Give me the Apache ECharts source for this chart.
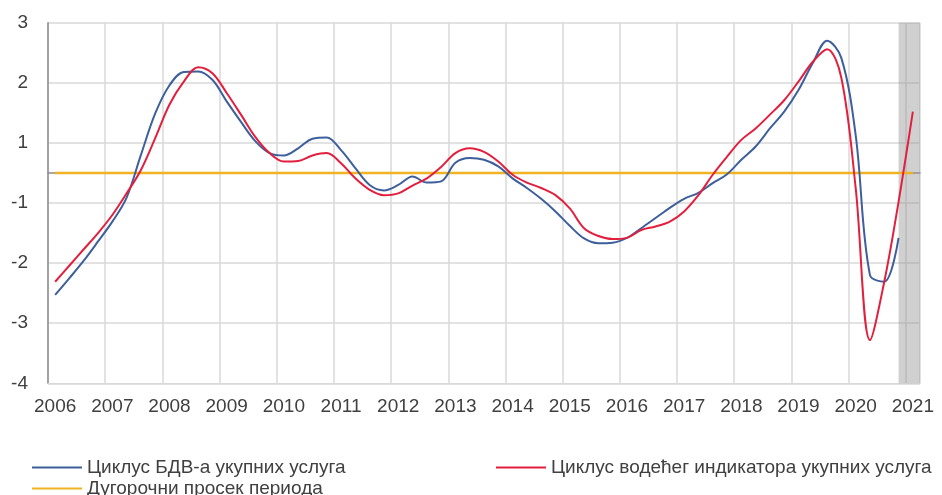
<!DOCTYPE html>
<html>
<head>
<meta charset="utf-8">
<script src="https://cdn.jsdelivr.net/npm/echarts@6/dist/echarts.min.js"></script>
<style>
  html, body { margin: 0; padding: 0; background: #fff; }
  #chart { width: 942px; height: 495px; }
</style>
</head>
<body>
<div id="chart"></div>
<script>
// quarterly data, 2006Q1 - 2021Q1
const years = [2006, 2007, 2008, 2009, 2010, 2011, 2012, 2013, 2014, 2015, 2016, 2017, 2018, 2019, 2020, 2021];
const quarters = [];
years.forEach(function (y) {
  for (let q = 1; q <= 4; q++) {
    if (y === 2021 && q > 1) break;
    quarters.push(y + 'Q' + q);
  }
});

// Циклус БДВ-а укупних услуга
const gvaCycle = [
  -2.03, -1.75, -1.46, -1.14, -0.81, -0.41, 0.30, 0.99,
  1.46, 1.68, 1.69, 1.55, 1.19, 0.85, 0.53, 0.33,
  0.29, 0.41, 0.57, 0.59, 0.38, 0.08, -0.20, -0.29,
  -0.20, -0.06, -0.16, -0.14, 0.17, 0.25, 0.22, 0.11,
  -0.09, -0.25, -0.43, -0.64, -0.88, -1.09, -1.17, -1.16,
  -1.08, -0.92, -0.75, -0.58, -0.43, -0.33, -0.17, -0.02,
  0.22, 0.44, 0.74, 1.02, 1.38, 1.83, 2.20, 1.91,
  0.63, -1.70, -1.81, -1.08, null
];

// Циклус водећег индикатора укупних услуга
const leadCycle = [
  -1.81, -1.54, -1.27, -1.00, -0.70, -0.34, 0.05, 0.58,
  1.14, 1.52, 1.76, 1.66, 1.33, 0.97, 0.60, 0.33,
  0.19, 0.20, 0.29, 0.33, 0.16, -0.09, -0.28, -0.37,
  -0.34, -0.21, -0.09, 0.10, 0.33, 0.41, 0.35, 0.19,
  -0.03, -0.16, -0.25, -0.37, -0.59, -0.92, -1.05, -1.10,
  -1.08, -0.95, -0.89, -0.81, -0.64, -0.37, -0.03, 0.27,
  0.55, 0.74, 0.97, 1.21, 1.52, 1.85, 2.06, 1.58,
  -0.25, -2.78, -1.81, -0.48, 1.02
];

// Дугорочни просек периода
const longAvg = quarters.map(function () { return 0; });

// shaded forecast area (in quarter units)
const shadeFrom = 59.5;
const shadeTo = 61;

const names = ['Циклус БДВ-а укупних услуга', 'Циклус водећег индикатора укупних услуга', 'Дугорочни просек периода'];
const colors = ['#3d5f9c', '#e21f3d', '#f0b323'];

const font = 'Liberation Sans, Arial, sans-serif';
const txt = '#404040';

let myChart = echarts.init(document.getElementById('chart'));

function legendAt(name, left, top) {
  return {
    left: left,
    top: top,
    data: [name],
    icon: 'rect',
    itemWidth: 50,
    itemHeight: 2,
    itemGap: 0,
    selectedMode: false,
    textStyle: { fontFamily: font, fontSize: 19, color: txt }
  };
}

const option = {
  animation: false,
  grid: { left: 48, right: 22, top: 22.7, bottom: 111.7 },
  legend: [
    legendAt(names[0], 27, 453),
    legendAt(names[1], 491, 453),
    legendAt(names[2], 27, 474)
  ],
  xAxis: [
    {
      type: 'category',
      data: quarters,
      boundaryGap: true,
      axisLine: { show: true, lineStyle: { color: '#d9d9d9', width: 1 }, onZero: false },
      axisTick: { show: false },
      axisLabel: {
        interval: 3,
        margin: 14,
        fontFamily: font,
        fontSize: 19,
        color: txt,
        formatter: function (v) { return v.slice(0, 4); }
      },
      splitLine: { show: true, interval: 3, lineStyle: { color: '#d9d9d9', width: 1.5 } }
    },
    {
      // axis line crossing at zero
      type: 'category',
      data: quarters,
      position: 'bottom',
      axisLine: { show: true, onZero: true, lineStyle: { color: '#8c8c8c', width: 1.5 } },
      axisTick: { show: false },
      axisLabel: { show: false },
      splitLine: { show: false }
    },
    {
      type: 'value',
      min: 0,
      max: 61,
      show: false
    }
  ],
  yAxis: {
    type: 'value',
    min: -3.5,
    max: 2.5,
    interval: 1,
    axisLine: { show: true, lineStyle: { color: '#8c8c8c', width: 1.5 } },
    axisTick: { show: false },
    axisLabel: {
      margin: 20,
      fontFamily: font,
      fontSize: 19,
      color: txt,
      formatter: function (v) {
        const r = Math.round(v * 10) / 10;
        if (r === 0) return '';
        return r > 0 ? Math.round(r) : -Math.round(-r);
      }
    },
    splitLine: { show: true, lineStyle: { color: '#d9d9d9', width: 1.5 } }
  },
  series: [
    {
      name: names[2],
      type: 'line',
      data: longAvg,
      symbol: 'none',
      itemStyle: { color: colors[2] },
      lineStyle: { width: 2.5, color: colors[2] },
      z: 3
    },
    {
      name: names[0],
      type: 'line',
      data: gvaCycle,
      smooth: 0.35,
      symbol: 'none',
      itemStyle: { color: colors[0] },
      lineStyle: { width: 2, color: colors[0] },
      z: 4
    },
    {
      name: names[1],
      type: 'line',
      data: leadCycle,
      smooth: 0.35,
      symbol: 'none',
      itemStyle: { color: colors[1] },
      lineStyle: { width: 2, color: colors[1] },
      z: 5
    },
    {
      name: 'shade',
      type: 'line',
      xAxisIndex: 2,
      data: [[shadeTo, 0]],
      symbol: 'none',
      lineStyle: { opacity: 0 },
      silent: true,
      z: 10,
      markArea: {
        silent: true,
        itemStyle: { color: 'rgba(150,150,150,0.45)' },
        data: [[{ xAxis: shadeFrom }, { xAxis: shadeTo }]]
      }
    }
  ]
};

myChart.setOption(option);
window.addEventListener('resize', function () {
  myChart.resize();
});
</script>
</body>
</html>
